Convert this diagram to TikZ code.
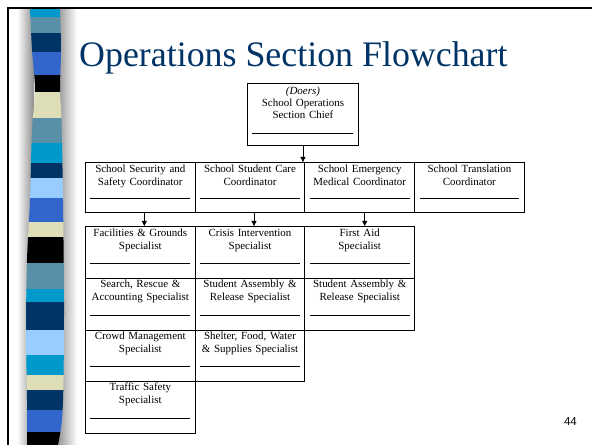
\documentclass[tikz,border=0pt]{standalone}
\usepackage{fontspec}
\usetikzlibrary{arrows.meta}
\setmainfont{Liberation Serif}
\newfontfamily\numfont{Liberation Sans}
\definecolor{titleblue}{RGB}{0,51,102}
\definecolor{bcyan}{RGB}{0,153,204}
\definecolor{bsteel}{RGB}{89,144,168}
\definecolor{bnavy}{RGB}{0,51,102}
\definecolor{broyal}{RGB}{51,102,204}
\definecolor{bbeige}{RGB}{221,221,184}
\definecolor{blight}{RGB}{153,204,255}

\begin{document}
\begin{tikzpicture}[x=1bp, y=-1bp, >={Latex[length=5.5bp,width=5.5bp]},
			every node/.style={font=\fontsize{11}{13}\selectfont},
			ulbox/.style={draw, line width=0.9bp, anchor=north west, text width=103.7bp, align=center, inner xsep=3bp, inner ysep=0pt, text height=9.5bp,
				path picture={\draw[line width=0.8bp] ([xshift=5bp, yshift=#1]path picture bounding box.south west) -- ([xshift=-5bp, yshift=#1]path picture bounding box.south east);}},
			chiefbox/.style={ulbox=12bp, text width=105bp, text height=11bp, text depth=51bp, font=\fontsize{11}{12}\selectfont},
			coordbox/.style={ulbox=14bp, text depth=40bp},
			specbox/.style={ulbox=15bp, text depth=42bp}]
			\useasboundingbox (0,0) rectangle (592,445);
			% shadow and stripes on the left
			\shade[left color=white, right color=gray!90] (17,8) rectangle (34,445);
			\shade[left color=gray!90, right color=white] (56,8) rectangle (77,445);
			\begin{scope}
			\clip plot[smooth] coordinates {(30,8) (32,50) (35,90) (32,130) (30,200) (27,260) (26,330) (27,400) (27,445)}
				-- plot[smooth] coordinates {(58,445) (62,420) (63.5,380) (64,300) (63,200) (61.5,120) (60,90) (61,50) (60,8)} -- cycle;
			\fill[bcyan] (20,8) rectangle (70,17);
			\fill[bsteel] (20,17) rectangle (70,33);
			\fill[bnavy] (20,33) rectangle (70,52);
			\fill[broyal] (20,52) rectangle (70,75);
			\fill[black] (20,75) rectangle (70,92);
			\fill[bbeige] (20,92) rectangle (70,118);
			\fill[bsteel] (20,118) rectangle (70,143);
			\fill[bcyan] (20,143) rectangle (70,163);
			\fill[bnavy] (20,163) rectangle (70,178);
			\fill[blight] (20,178) rectangle (70,198);
			\fill[broyal] (20,198) rectangle (70,222);
			\fill[bbeige] (20,222) rectangle (70,237);
			\fill[black] (20,237) rectangle (70,263);
			\fill[bsteel] (20,263) rectangle (70,289);
			\fill[bcyan] (20,289) rectangle (70,302);
			\fill[bnavy] (20,302) rectangle (70,330);
			\fill[blight] (20,330) rectangle (70,355);
			\fill[bcyan] (20,355) rectangle (70,375);
			\fill[bbeige] (20,375) rectangle (70,390);
			\fill[bnavy] (20,390) rectangle (70,410);
			\fill[broyal] (20,410) rectangle (70,432);
			\fill[black] (20,432) rectangle (70,445);
			\end{scope}
			\draw[line width=2bp] (8,445) -- (8,8) -- (592,8);
			\node[font=\fontsize{36}{40}\selectfont, text=titleblue, anchor=base west, inner sep=0pt] (title) at (79,67) {Operations Section Flowchart};
			\node[chiefbox] (chief) at (247,83) {\textit{(Doers)}\\School Operations\\Section Chief};
			\node[coordbox] (secur) at (85,162.5) {School Security and\\Safety Coordinator};
			\node[coordbox] (care) at (194.7,162.5) {School Student Care\\Coordinator};
			\node[coordbox] (medic) at (304.4,162.5) {School Emergency\\Medical Coordinator};
			\node[coordbox] (transl) at (414.1,162.5) {School Translation\\Coordinator};
			\node[specbox] (facil) at (85,226.5) {Facilities \& Grounds\\Specialist};
			\node[specbox] (search) at (85,278) {Search, Rescue \&\\Accounting Specialist};
			\node[specbox] (crowd) at (85,329.5) {Crowd Management\\Specialist};
			\node[specbox] (traffic) at (85,381) {Traffic Safety\\Specialist};
			\node[specbox] (crisis) at (194.7,226.5) {Crisis Intervention\\Specialist};
			\node[specbox] (assem) at (194.7,278) {Student Assembly \&\\Release Specialist};
			\node[specbox] (shelter) at (194.7,329.5) {Shelter, Food, Water\\\& Supplies Specialist};
			\node[specbox] (firstaid) at (304.4,226.5) {First Aid\\Specialist};
			\node[specbox] (release) at (304.4,278) {Student Assembly \&\\Release Specialist};
			\draw[->, line width=0.8bp] (chief.south) -- (chief.south |- care.north);
			\draw[->, line width=0.8bp] ([xshift=4bp]secur.south) -- ([xshift=4bp]facil.north);
			\draw[->, line width=0.8bp] ([xshift=4bp]care.south) -- ([xshift=4bp]crisis.north);
			\draw[->, line width=0.8bp] ([xshift=5bp]medic.south) -- ([xshift=5bp]firstaid.north);
			\node[font=\numfont\fontsize{11.5}{12}\selectfont, anchor=base east, inner sep=0pt] (pagenum) at (577,425) {44};
			\end{tikzpicture}
\end{document}
